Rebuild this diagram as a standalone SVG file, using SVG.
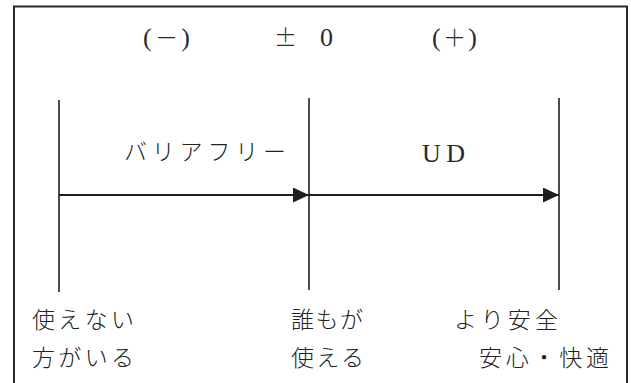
<svg xmlns="http://www.w3.org/2000/svg" width="631" height="383" viewBox="0 0 631 383">
<style>
.frame{fill:none;stroke:#2a2a2a;stroke-width:2}
.tick{stroke:#1e1e1e;stroke-width:1.6;fill:none}
.arr{stroke:#1e1e1e;stroke-width:2.2;fill:none}
.lat{font-family:"Liberation Serif","Noto Sans CJK JP",serif;font-size:26px;fill:#2a2a2a}
.sym{font-family:"Noto Sans CJK JP",sans-serif;font-size:23px;font-weight:300}
.jp{font-family:"Noto Sans CJK JP","Liberation Serif",sans-serif;font-size:23px;fill:#222;font-weight:300}
</style>
<defs>
<marker id="ah" markerUnits="userSpaceOnUse" markerWidth="17" markerHeight="16" refX="16" refY="7.5" orient="auto">
<path d="M0,0 L16,7.5 L0,15 z" fill="#1e1e1e"/>
</marker>
</defs>
<rect width="631" height="383" fill="#fff"/>
<path class="frame" d="M14,390 L14,6.5 L627,6.5 L627,390"/>
<g id="scale">
<text class="lat" x="143" y="46" textLength="47" lengthAdjust="spacing">(<tspan class="sym">－</tspan>)</text>
<text class="lat" x="274" y="46" textLength="59" lengthAdjust="spacing"><tspan class="sym">±</tspan> 0</text>
<text class="lat" x="432" y="46" textLength="45" lengthAdjust="spacing">(<tspan class="sym">＋</tspan>)</text>
</g>
<g id="axis-minus"><line class="tick" x1="59" y1="100" x2="59" y2="292"/></g>
<g id="axis-zero"><line class="tick" x1="309" y1="98" x2="309" y2="290"/></g>
<g id="axis-plus"><line class="tick" x1="559" y1="98" x2="559" y2="290"/></g>
<g id="connectors">
<line class="arr" x1="59" y1="195" x2="309" y2="195" marker-end="url(#ah)"/>
<line class="arr" x1="309" y1="195" x2="559" y2="195" marker-end="url(#ah)"/>
</g>
<g id="label-barrierfree"><text class="jp" x="124" y="160" textLength="162" lengthAdjust="spacing">バリアフリー</text></g>
<g id="label-ud"><text class="lat" x="422" y="162" textLength="43" lengthAdjust="spacing">UD</text></g>
<g id="label-left">
<text class="jp" x="32" y="328" textLength="102" lengthAdjust="spacing">使えない</text>
<text class="jp" x="32" y="366" textLength="102" lengthAdjust="spacing">方がいる</text>
</g>
<g id="label-center">
<text class="jp" x="291" y="328" textLength="72" lengthAdjust="spacing">誰もが</text>
<text class="jp" x="291" y="366" textLength="73" lengthAdjust="spacing">使える</text>
</g>
<g id="label-right">
<text class="jp" x="454" y="328" textLength="104" lengthAdjust="spacing">より安全</text>
<text class="jp" x="479" y="366" textLength="130" lengthAdjust="spacing">安心・快適</text>
</g>
</svg>
